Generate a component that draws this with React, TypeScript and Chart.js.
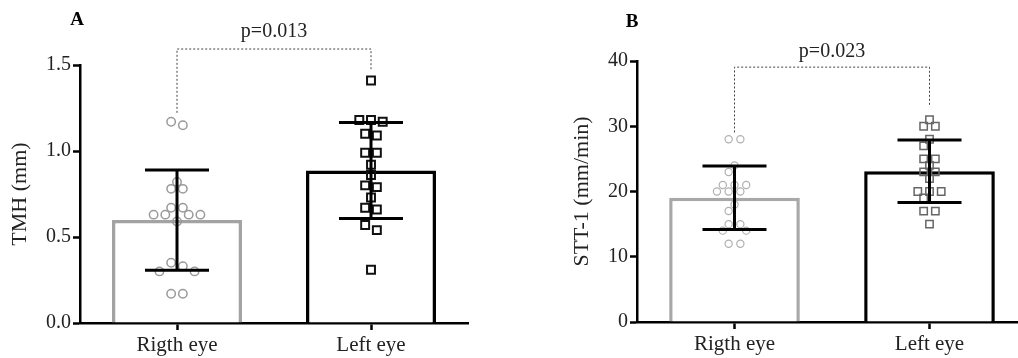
import React, { useEffect, useRef } from 'react';
import { Chart, registerables } from 'chart.js';

Chart.register(...registerables);

// ---------------- data ----------------
const categories = ['Rigth eye', 'Left eye'];
const tmhRightEye = [1.17, 1.15, 0.82, 0.78, 0.78, 0.67, 0.67, 0.63, 0.63, 0.63, 0.63, 0.59, 0.35, 0.33, 0.30, 0.30, 0.17, 0.17];
const tmhLeftEye = [1.41, 1.18, 1.17, 1.18, 1.10, 1.09, 0.99, 0.99, 0.92, 0.86, 0.80, 0.79, 0.73, 0.67, 0.66, 0.57, 0.54, 0.31];
const sttRightEye = [28, 28, 24, 23, 21, 21, 21, 20, 20, 20, 18, 17, 15, 15, 14, 14, 12, 12];
const sttLeftEye = [31, 30, 30, 28, 27, 25, 25, 24, 23, 23, 22, 20, 20, 20, 19, 17, 17, 15];
const tmhTicks = [0, 0.5, 1.0, 1.5];
const sttTicks = [0, 10, 20, 30, 40];
const pValueLabels = ['p=0.013', 'p=0.023'];
const panelLetters = ['A', 'B'];
const yTitles = ['TMH (mm)', 'STT-1 (mm/min)'];

// ---------------- helpers ----------------
const SERIF = '"Liberation Serif", "Times New Roman", serif';
const TEXT = '#222';

const mean = (a: number[]) => a.reduce((s, v) => s + v, 0) / a.length;
const stdev = (a: number[]) => {
  const m = mean(a);
  return Math.sqrt(a.reduce((s, v) => s + (v - m) * (v - m), 0) / (a.length - 1));
};

// beeswarm layout computed in pixel space from the y positions
function swarmOffsets(py: number[], step: number, collide: number): number[] {
  const n = py.length;
  const order = py.map((_, i) => i).sort((a, b) => py[a] - py[b]);
  const groups: number[][] = [];
  for (const i of order) {
    const g = groups[groups.length - 1];
    if (g && py[i] - py[g[0]] < step / 2) g.push(i);
    else groups.push([i]);
  }
  const half = step / 2;
  const placed: { x: number; y: number }[] = [];
  const out = new Array(n).fill(0);
  for (const g of groups) {
    const m = g.length;
    const cands: number[][] = [];
    for (let sh = 0; sh <= 12; sh++) {
      for (const sgn of sh === 0 ? [1] : [-1, 1]) {
        cands.push(g.map((_, k) => 2 * k - (m - 1) + sgn * sh));
      }
    }
    if (m % 2 === 0) {
      for (let gap = 1; gap <= 12; gap++) {
        const pos: number[] = [];
        for (let j = m / 2 - 1; j >= 0; j--) pos.push(-(1 + gap + 2 * j));
        for (let j = 0; j < m / 2; j++) pos.push(1 + gap + 2 * j);
        cands.push(pos);
      }
    }
    const score = (p: number[]) =>
      Math.max(...p.map(Math.abs)) * 100 + Math.abs(p.reduce((a, b) => a + b, 0));
    cands.sort((a, b) => score(a) - score(b));
    const fits = (p: number[]) =>
      p.every((q, k) => placed.every((o) => Math.hypot(q * half - o.x, py[g[k]] - o.y) >= collide));
    const chosen = cands.find(fits) || cands[0];
    chosen.forEach((q, k) => {
      out[g[k]] = q * half;
      placed.push({ x: q * half, y: py[g[k]] });
    });
  }
  return out;
}

type PanelCfg = {
  letter: string;
  title: string;
  groups: number[][];
  ticks: number[];
  decimals: number;
  p: string;
  left: number;
  width: number;
  axisWidth: number;
  padRight: number;
  padTop: number;
  xAxisHeight: number;
  titlePad: number;
  bracket: { legs: number[]; top: number; textGap: number };
  letterDx: number;
  letterY: number;
  barColors: string[];
  points: { style: string; radius: number; width: number; color: string; collide: number }[];
};

const panels: PanelCfg[] = [
  {
    letter: panelLetters[0],
    title: yTitles[0],
    groups: [tmhRightEye, tmhLeftEye],
    ticks: tmhTicks,
    decimals: 1,
    p: pValueLabels[0],
    left: 0,
    width: 509,
    axisWidth: 80,
    padRight: 41,
    padTop: 65,
    xAxisHeight: 35,
    titlePad: 7,
    bracket: { legs: [1.222, 1.472], top: 1.593, textGap: 12.5 },
    letterDx: -3,
    letterY: 25,
    barColors: ['#a3a3a3', '#000000'],
    points: [
      { style: 'circle', radius: 4.2, width: 1.5, color: '#9a9a9a', collide: 9 },
      { style: 'rect', radius: 5.6, width: 2, color: '#111111', collide: 9 },
    ],
  },
  {
    letter: panelLetters[1],
    title: yTitles[1],
    groups: [sttRightEye, sttLeftEye],
    ticks: sttTicks,
    decimals: 0,
    p: pValueLabels[1],
    left: 520,
    width: 520,
    axisWidth: 117,
    padRight: 13,
    padTop: 61,
    xAxisHeight: 36,
    titlePad: 49,
    bracket: { legs: [29.05, 33.0], top: 39.06, textGap: 9.7 },
    letterDx: -5,
    letterY: 26.7,
    barColors: ['#a8a8a8', '#000000'],
    points: [
      { style: 'circle', radius: 3.6, width: 1.2, color: '#b0b0b0', collide: 8.5 },
      { style: 'rect', radius: 5.2, width: 1.5, color: '#666666', collide: 8.5 },
    ],
  },
];

function makeDecor(panel: PanelCfg) {
  return {
    id: 'decor' + panel.letter,
    afterDatasetsDraw(chart: any) {
      const ctx = chart.ctx;
      const x = chart.scales.x;
      const y = chart.scales.y;
      ctx.save();
      // error bars (mean ± SD)
      ctx.strokeStyle = '#000';
      ctx.lineWidth = 3;
      ctx.lineCap = 'butt';
      const cap = 32;
      panel.groups.forEach((vals, i) => {
        const m = mean(vals);
        const sd = stdev(vals);
        const cx = x.getPixelForValue(i);
        const yt = y.getPixelForValue(m + sd);
        const yb = y.getPixelForValue(m - sd);
        ctx.beginPath();
        ctx.moveTo(cx, yt);
        ctx.lineTo(cx, yb);
        ctx.moveTo(cx - cap, yt);
        ctx.lineTo(cx + cap, yt);
        ctx.moveTo(cx - cap, yb);
        ctx.lineTo(cx + cap, yb);
        ctx.stroke();
      });
      // significance bracket
      const b = panel.bracket;
      const x0 = x.getPixelForValue(0);
      const x1 = x.getPixelForValue(1);
      const ytop = y.getPixelForValue(b.top);
      ctx.setLineDash([2, 2]);
      ctx.lineWidth = 1;
      ctx.strokeStyle = '#444';
      ctx.beginPath();
      ctx.moveTo(x0, y.getPixelForValue(b.legs[0]));
      ctx.lineTo(x0, ytop);
      ctx.lineTo(x1, ytop);
      ctx.lineTo(x1, y.getPixelForValue(b.legs[1]));
      ctx.stroke();
      ctx.setLineDash([]);
      ctx.fillStyle = TEXT;
      ctx.font = `20px ${SERIF}`;
      ctx.textAlign = 'center';
      ctx.textBaseline = 'alphabetic';
      ctx.fillText(panel.p, (x0 + x1) / 2, ytop - b.textGap);
      // panel letter
      ctx.fillStyle = '#000';
      ctx.font = `bold 19px ${SERIF}`;
      ctx.fillText(panel.letter, chart.chartArea.left + panel.letterDx, panel.letterY);
      ctx.restore();
    },
  };
}

function Panel({ panel }: { panel: PanelCfg }) {
  const ref = useRef<HTMLCanvasElement>(null);
  useEffect(() => {
    const canvas = ref.current!;
    const means = panel.groups.map(mean);
    const tickFirst = panel.ticks[0];
    const tickLast = panel.ticks[panel.ticks.length - 1];
    const chart = new Chart(canvas, {
      type: 'bar',
      data: {
        labels: categories,
        datasets: [
          {
            type: 'bar',
            data: means,
            backgroundColor: '#ffffff',
            borderColor: panel.barColors,
            borderWidth: 3.5,
            borderSkipped: 'bottom',
            categoryPercentage: 1,
            barPercentage: 0.67,
            grouped: false,
            order: 2,
            xAxisID: 'x',
            yAxisID: 'y',
          } as any,
          ...panel.groups.map((vals, i) => ({
            type: 'scatter',
            data: vals.map((v) => ({ x: i, y: v })),
            xAxisID: 'xs',
            yAxisID: 'y',
            pointStyle: panel.points[i].style,
            pointRadius: panel.points[i].radius,
            pointHoverRadius: panel.points[i].radius,
            borderWidth: panel.points[i].width,
            borderColor: panel.points[i].color,
            backgroundColor: 'rgba(0,0,0,0)',
            showLine: false,
            order: 1,
          })) as any,
        ],
      },
      options: {
        responsive: false,
        maintainAspectRatio: false,
        animation: false,
        events: [],
        layout: { padding: { left: 0, right: panel.padRight, top: panel.padTop, bottom: 0 } },
        plugins: { legend: { display: false }, tooltip: { enabled: false } },
        scales: {
          x: {
            type: 'category',
            offset: true,
            grid: {
              display: true,
              drawOnChartArea: false,
              drawTicks: true,
              tickLength: 7,
              tickWidth: 2.5,
              tickColor: '#000',
              offset: false,
            },
            border: { display: true, color: '#000', width: 2.5 },
            ticks: { color: TEXT, font: { family: SERIF, size: 21 }, padding: 3, maxRotation: 0 },
            afterFit: (s: any) => {
              s.height = panel.xAxisHeight;
            },
          },
          xs: { type: 'linear', min: -0.5, max: 1.5, offset: false, display: false, grid: { offset: false } },
          y: {
            type: 'linear',
            min: tickFirst,
            max: tickLast,
            afterBuildTicks: (s: any) => {
              s.ticks = panel.ticks.map((v) => ({ value: v }));
            },
            grid: {
              display: true,
              drawOnChartArea: false,
              drawTicks: true,
              tickLength: 7,
              tickWidth: 2.5,
              tickColor: '#000',
            },
            border: { display: true, color: '#000', width: 2.5 },
            ticks: {
              color: TEXT,
              font: { family: SERIF, size: 20 },
              padding: 2,
              callback: (v: any) => Number(v).toFixed(panel.decimals),
            },
            title: {
              display: true,
              text: panel.title,
              color: TEXT,
              font: { family: SERIF, size: 22 },
              padding: { top: panel.titlePad, bottom: 0 },
            },
            afterFit: (s: any) => {
              s.width = panel.axisWidth;
            },
          },
        },
      } as any,
      plugins: [makeDecor(panel)],
    });

    // spread the points (beeswarm) using the library's scales
    const ys: any = chart.scales.y;
    const xs: any = chart.scales.xs;
    const unit = xs.getPixelForValue(1) - xs.getPixelForValue(0);
    panel.groups.forEach((vals, i) => {
      const py = vals.map((v) => ys.getPixelForValue(v));
      const offs = swarmOffsets(py, 11.7, panel.points[i].collide);
      (chart.data.datasets[i + 1] as any).data = vals.map((v, j) => ({ x: i + offs[j] / unit, y: v }));
    });
    chart.update();
    return () => chart.destroy();
  }, [panel]);
  return (
    <canvas
      ref={ref}
      width={panel.width}
      height={358}
      style={{ position: 'absolute', left: panel.left, top: 0, width: panel.width, height: 358 }}
    />
  );
}

export default function App() {
  return (
    <div
      style={{
        position: 'fixed',
        left: 0,
        top: 0,
        width: 1018,
        height: 358,
        overflow: 'hidden',
        background: '#ffffff',
      }}
    >
      {panels.map((p) => (
        <Panel key={p.letter} panel={p} />
      ))}
    </div>
  );
}
